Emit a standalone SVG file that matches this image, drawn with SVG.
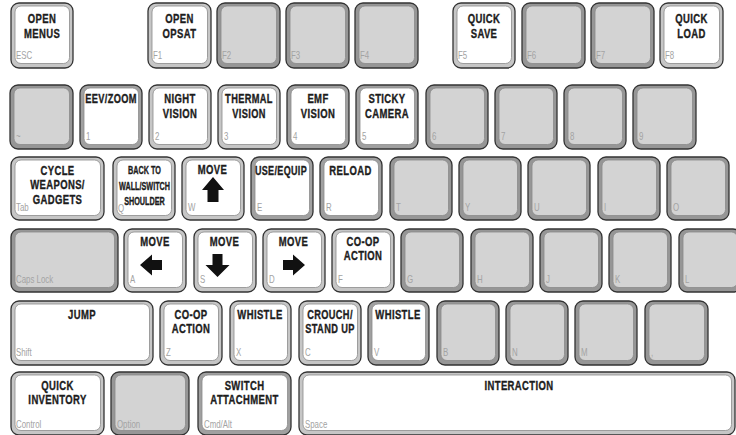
<svg xmlns="http://www.w3.org/2000/svg" width="736" height="435" viewBox="0 0 736 435">
<style>
.o{stroke:#333;stroke-width:1.3}
.bl{fill:#c6c6c6}
.bd{fill:#a0a0a0}
.bg{fill:#969696}
.fw{fill:#fff;stroke:#8c8c8c;stroke-width:.8}
.fg{fill:#d3d3d3;stroke:#8a8a8a;stroke-width:.8}
.l{font-family:"Liberation Sans",Arial,sans-serif;font-weight:bold;font-size:12.5px;fill:#1c1c1c;stroke:#1c1c1c;stroke-width:.35px;text-anchor:middle;letter-spacing:.5px}
.s{font-size:10.5px;letter-spacing:0}
.k{font-family:"Liberation Sans",Arial,sans-serif;font-size:10.5px;fill:#a3a3a3}
.a{fill:#111}
</style>
<rect width="736" height="435" fill="#fff"/>
<g id="connectors"/>
<!-- Row 1 -->
<g id="key-esc"><rect class="o bl" x="11" y="3" width="62" height="65" rx="8"/><rect class="fw" x="15" y="6" width="54.5" height="57.5" rx="6"/><text class="l" transform="translate(42 23) scale(.76 1)"><tspan x="0">OPEN</tspan><tspan x="0" dy="15">MENUS</tspan></text><text class="k" transform="translate(16 59) scale(.75 1)">ESC</text></g>
<g id="key-f1"><rect class="o bl" x="148" y="3" width="63" height="65" rx="8"/><rect class="fw" x="152" y="6" width="55.5" height="57.5" rx="6"/><text class="l" transform="translate(179.5 23) scale(.76 1)"><tspan x="0">OPEN</tspan><tspan x="0" dy="15">OPSAT</tspan></text><text class="k" transform="translate(153 59) scale(.75 1)">F1</text></g>
<g id="key-f2"><rect class="o bg" x="217" y="3" width="63" height="65" rx="8"/><rect class="fg" x="221" y="6" width="55.5" height="57.5" rx="6"/><text class="k" transform="translate(222 59) scale(.75 1)">F2</text></g>
<g id="key-f3"><rect class="o bg" x="286" y="3" width="63" height="65" rx="8"/><rect class="fg" x="290" y="6" width="55.5" height="57.5" rx="6"/><text class="k" transform="translate(291 59) scale(.75 1)">F3</text></g>
<g id="key-f4"><rect class="o bg" x="355" y="3" width="63" height="65" rx="8"/><rect class="fg" x="359" y="6" width="55.5" height="57.5" rx="6"/><text class="k" transform="translate(360 59) scale(.75 1)">F4</text></g>
<g id="key-f5"><rect class="o bl" x="453" y="3" width="62" height="65" rx="8"/><rect class="fw" x="457" y="6" width="54.5" height="57.5" rx="6"/><text class="l" transform="translate(484 23) scale(.76 1)"><tspan x="0">QUICK</tspan><tspan x="0" dy="15">SAVE</tspan></text><text class="k" transform="translate(458 59) scale(.75 1)">F5</text></g>
<g id="key-f6"><rect class="o bg" x="522" y="3" width="63" height="65" rx="8"/><rect class="fg" x="526" y="6" width="55.5" height="57.5" rx="6"/><text class="k" transform="translate(527 59) scale(.75 1)">F6</text></g>
<g id="key-f7"><rect class="o bg" x="591" y="3" width="63" height="65" rx="8"/><rect class="fg" x="595" y="6" width="55.5" height="57.5" rx="6"/><text class="k" transform="translate(596 59) scale(.75 1)">F7</text></g>
<g id="key-f8"><rect class="o bl" x="660" y="3" width="63" height="65" rx="8"/><rect class="fw" x="664" y="6" width="55.5" height="57.5" rx="6"/><text class="l" transform="translate(691.5 23) scale(.76 1)"><tspan x="0">QUICK</tspan><tspan x="0" dy="15">LOAD</tspan></text><text class="k" transform="translate(665 59) scale(.75 1)">F8</text></g>
<!-- Row 2 -->
<g id="key-tilde"><rect class="o bg" x="10" y="85" width="63" height="64" rx="8"/><rect class="fg" x="14" y="88" width="55.5" height="56.5" rx="6"/><text class="k" transform="translate(16 140) scale(.75 1)">~</text></g>
<g id="key-1"><rect class="o bd" x="80" y="85" width="62" height="64" rx="8"/><rect class="fw" x="84" y="88" width="54.5" height="56.5" rx="6"/><text class="l" transform="translate(111 103) scale(.74 1)">EEV/ZOOM</text><text class="k" transform="translate(86 140) scale(.75 1)">1</text></g>
<g id="key-2"><rect class="o bl" x="149" y="85" width="62" height="64" rx="8"/><rect class="fw" x="153" y="88" width="54.5" height="56.5" rx="6"/><text class="l" transform="translate(180 103) scale(.76 1)"><tspan x="0">NIGHT</tspan><tspan x="0" dy="15">VISION</tspan></text><text class="k" transform="translate(155 140) scale(.75 1)">2</text></g>
<g id="key-3"><rect class="o bl" x="218" y="85" width="62" height="64" rx="8"/><rect class="fw" x="222" y="88" width="54.5" height="56.5" rx="6"/><text class="l" transform="translate(249 103) scale(.74 1)"><tspan x="0">THERMAL</tspan><tspan x="0" dy="15">VISION</tspan></text><text class="k" transform="translate(224 140) scale(.75 1)">3</text></g>
<g id="key-4"><rect class="o bd" x="287" y="85" width="62" height="64" rx="8"/><rect class="fw" x="291" y="88" width="54.5" height="56.5" rx="6"/><text class="l" transform="translate(318 103) scale(.76 1)"><tspan x="0">EMF</tspan><tspan x="0" dy="15">VISION</tspan></text><text class="k" transform="translate(293 140) scale(.75 1)">4</text></g>
<g id="key-5"><rect class="o bd" x="356" y="85" width="62" height="64" rx="8"/><rect class="fw" x="360" y="88" width="54.5" height="56.5" rx="6"/><text class="l" transform="translate(387 103) scale(.76 1)"><tspan x="0">STICKY</tspan><tspan x="0" dy="15">CAMERA</tspan></text><text class="k" transform="translate(362 140) scale(.75 1)">5</text></g>
<g id="key-6"><rect class="o bg" x="426" y="85" width="62" height="64" rx="8"/><rect class="fg" x="430" y="88" width="54.5" height="56.5" rx="6"/><text class="k" transform="translate(432 140) scale(.75 1)">6</text></g>
<g id="key-7"><rect class="o bg" x="495" y="85" width="62" height="64" rx="8"/><rect class="fg" x="499" y="88" width="54.5" height="56.5" rx="6"/><text class="k" transform="translate(501 140) scale(.75 1)">7</text></g>
<g id="key-8"><rect class="o bg" x="564" y="85" width="62" height="64" rx="8"/><rect class="fg" x="568" y="88" width="54.5" height="56.5" rx="6"/><text class="k" transform="translate(570 140) scale(.75 1)">8</text></g>
<g id="key-9"><rect class="o bg" x="633" y="85" width="63" height="64" rx="8"/><rect class="fg" x="637" y="88" width="55.5" height="56.5" rx="6"/><text class="k" transform="translate(639 140) scale(.75 1)">9</text></g>
<!-- Row 3 -->
<g id="key-tab"><rect class="o bl" x="11" y="157" width="93" height="63" rx="8"/><rect class="fw" x="15" y="160" width="85.5" height="55.5" rx="6"/><text class="l" transform="translate(57.5 175) scale(.76 1)"><tspan x="0">CYCLE</tspan><tspan x="0" dy="14.3">WEAPONS/</tspan><tspan x="0" dy="14.3">GADGETS</tspan></text><text class="k" transform="translate(16 211) scale(.75 1)">Tab</text></g>
<g id="key-q"><rect class="o bl" x="113" y="157" width="62" height="63" rx="8"/><rect class="fw" x="117" y="160" width="54.5" height="55.5" rx="6"/><text class="l s" transform="translate(144.5 173.5) scale(.69 1)"><tspan x="0">BACK TO</tspan><tspan x="0" dy="16.2">WALL/SWITCH</tspan><tspan x="0" dy="15.3">SHOULDER</tspan></text><text class="k" transform="translate(118 212) scale(.75 1)">Q</text></g>
<g id="key-w"><rect class="o bl" x="182" y="157" width="62" height="63" rx="8"/><rect class="fw" x="186" y="160" width="54.5" height="55.5" rx="6"/><text class="l" transform="translate(212.5 174) scale(.76 1)">MOVE</text><polygon class="a" points="213,177 224,190 218.5,190 218.5,202 207.5,202 207.5,190 202,190"/><text class="k" transform="translate(188 211) scale(.75 1)">W</text></g>
<g id="key-e"><rect class="o bd" x="251" y="157" width="62" height="63" rx="8"/><rect class="fw" x="255" y="160" width="54.5" height="55.5" rx="6"/><text class="l" transform="translate(281 175) scale(.72 1)">USE/EQUIP</text><text class="k" transform="translate(257 211) scale(.75 1)">E</text></g>
<g id="key-r"><rect class="o bd" x="320" y="157" width="62" height="63" rx="8"/><rect class="fw" x="324" y="160" width="54.5" height="55.5" rx="6"/><text class="l" transform="translate(350.5 175) scale(.76 1)">RELOAD</text><text class="k" transform="translate(326 211) scale(.75 1)">R</text></g>
<g id="key-t"><rect class="o bg" x="390" y="157" width="62" height="63" rx="8"/><rect class="fg" x="394" y="160" width="54.5" height="55.5" rx="6"/><text class="k" transform="translate(396 211) scale(.75 1)">T</text></g>
<g id="key-y"><rect class="o bg" x="459" y="157" width="62" height="63" rx="8"/><rect class="fg" x="463" y="160" width="54.5" height="55.5" rx="6"/><text class="k" transform="translate(465 211) scale(.75 1)">Y</text></g>
<g id="key-u"><rect class="o bg" x="528" y="157" width="62" height="63" rx="8"/><rect class="fg" x="532" y="160" width="54.5" height="55.5" rx="6"/><text class="k" transform="translate(534 211) scale(.75 1)">U</text></g>
<g id="key-i"><rect class="o bg" x="598" y="157" width="62" height="63" rx="8"/><rect class="fg" x="602" y="160" width="54.5" height="55.5" rx="6"/><text class="k" transform="translate(604 211) scale(.75 1)">I</text></g>
<g id="key-o"><rect class="o bg" x="667" y="157" width="62" height="63" rx="8"/><rect class="fg" x="671" y="160" width="54.5" height="55.5" rx="6"/><text class="k" transform="translate(673 211) scale(.75 1)">O</text></g>
<!-- Row 4 -->
<g id="key-caps"><rect class="o bg" x="11" y="229" width="107" height="63" rx="8"/><rect class="fg" x="15" y="232" width="99.5" height="55.5" rx="6"/><text class="k" transform="translate(16 283) scale(.75 1)">Caps Lock</text></g>
<g id="key-a"><rect class="o bl" x="124" y="229" width="62" height="63" rx="8"/><rect class="fw" x="128" y="232" width="54.5" height="55.5" rx="6"/><text class="l" transform="translate(155 246) scale(.76 1)">MOVE</text><polygon class="a" points="140,265 152,254.5 152,260 162,260 162,270 152,270 152,275.5"/><text class="k" transform="translate(130 283) scale(.75 1)">A</text></g>
<g id="key-s"><rect class="o bl" x="194" y="229" width="62" height="63" rx="8"/><rect class="fw" x="198" y="232" width="54.5" height="55.5" rx="6"/><text class="l" transform="translate(224.5 246) scale(.76 1)">MOVE</text><polygon class="a" points="217.5,277 229.5,265 222.5,265 222.5,254 212.5,254 212.5,265 205.5,265"/><text class="k" transform="translate(200 283) scale(.75 1)">S</text></g>
<g id="key-d"><rect class="o bl" x="263" y="229" width="62" height="63" rx="8"/><rect class="fw" x="267" y="232" width="54.5" height="55.5" rx="6"/><text class="l" transform="translate(293.5 246) scale(.76 1)">MOVE</text><polygon class="a" points="305,265 293,254.5 293,260 283,260 283,270 293,270 293,275.5"/><text class="k" transform="translate(269 283) scale(.75 1)">D</text></g>
<g id="key-f"><rect class="o bl" x="332" y="229" width="62" height="63" rx="8"/><rect class="fw" x="336" y="232" width="54.5" height="55.5" rx="6"/><text class="l" transform="translate(363 246) scale(.76 1)"><tspan x="0">CO-OP</tspan><tspan x="0" dy="14.5">ACTION</tspan></text><text class="k" transform="translate(338 283) scale(.75 1)">F</text></g>
<g id="key-g"><rect class="o bg" x="401" y="229" width="62" height="63" rx="8"/><rect class="fg" x="405" y="232" width="54.5" height="55.5" rx="6"/><text class="k" transform="translate(407 283) scale(.75 1)">G</text></g>
<g id="key-h"><rect class="o bg" x="471" y="229" width="62" height="63" rx="8"/><rect class="fg" x="475" y="232" width="54.5" height="55.5" rx="6"/><text class="k" transform="translate(477 283) scale(.75 1)">H</text></g>
<g id="key-j"><rect class="o bg" x="540" y="229" width="62" height="63" rx="8"/><rect class="fg" x="544" y="232" width="54.5" height="55.5" rx="6"/><text class="k" transform="translate(546 283) scale(.75 1)">J</text></g>
<g id="key-k"><rect class="o bg" x="609" y="229" width="62" height="63" rx="8"/><rect class="fg" x="613" y="232" width="54.5" height="55.5" rx="6"/><text class="k" transform="translate(615 283) scale(.75 1)">K</text></g>
<g id="key-l"><rect class="o bg" x="679" y="229" width="62" height="63" rx="8"/><rect class="fg" x="683" y="232" width="54.5" height="55.5" rx="6"/><text class="k" transform="translate(685 283) scale(.75 1)">L</text></g>
<!-- Row 5 -->
<g id="key-shift"><rect class="o bl" x="11" y="301" width="142" height="64" rx="8"/><rect class="fw" x="15" y="304" width="134.5" height="56.5" rx="6"/><text class="l" transform="translate(82 319) scale(.76 1)">JUMP</text><text class="k" transform="translate(16 356) scale(.75 1)">Shift</text></g>
<g id="key-z"><rect class="o bl" x="160" y="301" width="62" height="64" rx="8"/><rect class="fw" x="164" y="304" width="54.5" height="56.5" rx="6"/><text class="l" transform="translate(191 319) scale(.76 1)"><tspan x="0">CO-OP</tspan><tspan x="0" dy="14.5">ACTION</tspan></text><text class="k" transform="translate(166 356) scale(.75 1)">Z</text></g>
<g id="key-x"><rect class="o bl" x="230" y="301" width="61" height="64" rx="8"/><rect class="fw" x="234" y="304" width="53.5" height="56.5" rx="6"/><text class="l" transform="translate(260 319) scale(.76 1)">WHISTLE</text><text class="k" transform="translate(236 356) scale(.75 1)">X</text></g>
<g id="key-c"><rect class="o bl" x="299" y="301" width="62" height="64" rx="8"/><rect class="fw" x="303" y="304" width="54.5" height="56.5" rx="6"/><text class="l" transform="translate(330 319) scale(.74 1)"><tspan x="0">CROUCH/</tspan><tspan x="0" dy="14.5">STAND UP</tspan></text><text class="k" transform="translate(305 356) scale(.75 1)">C</text></g>
<g id="key-v"><rect class="o bd" x="368" y="301" width="61" height="64" rx="8"/><rect class="fw" x="372" y="304" width="53.5" height="56.5" rx="6"/><text class="l" transform="translate(398 319) scale(.76 1)">WHISTLE</text><text class="k" transform="translate(374 356) scale(.75 1)">V</text></g>
<g id="key-b"><rect class="o bg" x="437" y="301" width="62" height="64" rx="8"/><rect class="fg" x="441" y="304" width="54.5" height="56.5" rx="6"/><text class="k" transform="translate(443 356) scale(.75 1)">B</text></g>
<g id="key-n"><rect class="o bg" x="506" y="301" width="62" height="64" rx="8"/><rect class="fg" x="510" y="304" width="54.5" height="56.5" rx="6"/><text class="k" transform="translate(512 356) scale(.75 1)">N</text></g>
<g id="key-m"><rect class="o bg" x="575" y="301" width="62" height="64" rx="8"/><rect class="fg" x="579" y="304" width="54.5" height="56.5" rx="6"/><text class="k" transform="translate(581 356) scale(.75 1)">M</text></g>
<g id="key-comma"><rect class="o bg" x="645" y="301" width="63" height="64" rx="8"/><rect class="fg" x="649" y="304" width="55.5" height="56.5" rx="6"/><text class="k" transform="translate(651 356) scale(.75 1)">,</text></g>
<!-- Row 6 -->
<g id="key-control"><rect class="o bl" x="11" y="372" width="93" height="63" rx="8"/><rect class="fw" x="15" y="375" width="85.5" height="55.5" rx="6"/><text class="l" transform="translate(57.5 390) scale(.76 1)"><tspan x="0">QUICK</tspan><tspan x="0" dy="14.5">INVENTORY</tspan></text><text class="k" transform="translate(16 428) scale(.75 1)">Control</text></g>
<g id="key-option"><rect class="o bg" x="111" y="372" width="78" height="63" rx="8"/><rect class="fg" x="115" y="375" width="70.5" height="55.5" rx="6"/><text class="k" transform="translate(117 428) scale(.75 1)">Option</text></g>
<g id="key-cmd"><rect class="o bd" x="198" y="372" width="93" height="63" rx="8"/><rect class="fw" x="202" y="375" width="85.5" height="55.5" rx="6"/><text class="l" transform="translate(244.5 390) scale(.76 1)"><tspan x="0">SWITCH</tspan><tspan x="0" dy="14.5">ATTACHMENT</tspan></text><text class="k" transform="translate(204 428) scale(.75 1)">Cmd/Alt</text></g>
<g id="key-space"><rect class="o bl" x="299" y="372" width="436" height="63" rx="8"/><rect class="fw" x="303" y="375" width="428.5" height="55.5" rx="6"/><text class="l" transform="translate(519 390) scale(.76 1)">INTERACTION</text><text class="k" transform="translate(305 428) scale(.75 1)">Space</text></g>
</svg>
